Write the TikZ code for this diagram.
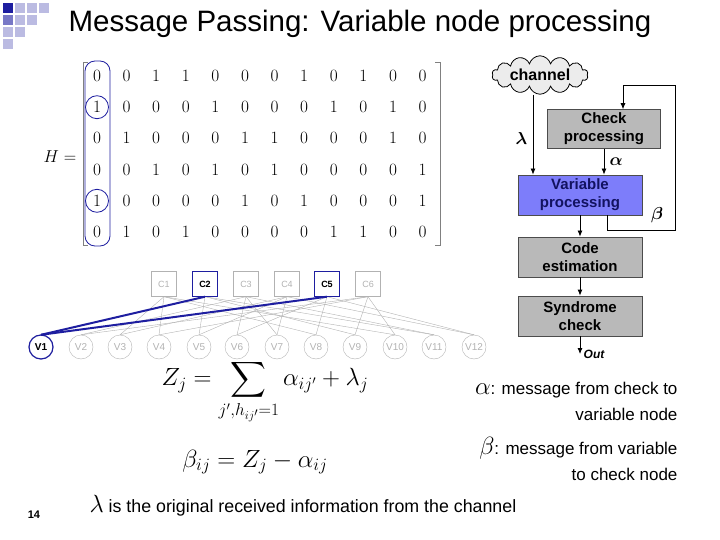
\documentclass[tikz,border=0pt]{standalone}
\usepackage{amsmath}
\usepackage{fontspec}
\setmainfont{Liberation Sans}
\usetikzlibrary{shapes.symbols,arrows.meta}
\definecolor{navy}{RGB}{30,30,160}
\definecolor{varfill}{RGB}{125,125,250}
\tikzset{
  cnode/.style={draw=gray!60,text=gray!60,minimum size=25pt,font=\fontsize{9}{9}\selectfont},
  vnode/.style={circle,draw=gray!60,text=gray!60,minimum size=24pt,inner sep=0pt,font=\fontsize{10}{10}\selectfont},
  blk/.style={draw=black!70,fill=gray!55,thick,minimum width=124pt,minimum height=40pt,align=center,
    font=\bfseries\fontsize{15}{18}\selectfont},
  flow/.style={thick,-{Latex[length=6pt,width=5pt]}}
}
\begin{document}
\begin{tikzpicture}[x=1pt,y=-1pt]
\useasboundingbox (0,0) rectangle (720,540);
% logo
\fill[navy] (3,3) rectangle (13,13);
\foreach \p in {(15,3),(27,3),(39,3),(15,15),(27,15),(3,27),(15,27),(3,39)}
  \fill[navy!30] \p rectangle ++(10,10);
\fill[navy!60] (3,15) rectangle (13,25);
\node[font=\fontsize{29.5}{30}\selectfont] (title) at (360,24) {Message Passing: Variable node processing};
% matrix
\node[font=\fontsize{19}{19}\selectfont] (Hlab) at (60,157) {$H=$};
\draw[gray,thick] (88,62) -- (83,62) -- (83,245) -- (88,245);
\draw[gray,thick] (435,62) -- (440,62) -- (440,245) -- (435,245);
\foreach \row [count=\r] in {{0,0,1,1,0,0,0,1,0,1,0,0},{1,0,0,0,1,0,0,0,1,0,1,0},
  {0,1,0,0,0,1,1,0,0,0,1,0},{0,0,1,0,1,0,1,0,0,0,0,1},{1,0,0,0,0,1,0,1,0,0,0,1},
  {0,1,0,1,0,0,0,0,1,1,0,0}}
  \foreach \v [count=\c] in \row
    \node[font=\fontsize{19}{19}\selectfont] (h\r\c) at (97+29.6*\c-29.6,76+31.2*\r-31.2) {$\v$};
\draw[navy,thick,rounded corners=10pt] (85,61) rectangle (110,246);
\draw[navy,thick] (h21) circle (11.5pt);
\draw[navy,thick] (h51) circle (11.5pt);
% tanner graph
\foreach \x [count=\i] in {164,205,246,287,327,368}
  \node[cnode] (C\i) at (\x,284) {C\i};
\foreach \x [count=\i] in {41,81,120,159,199,237,277,316,355,395,434,474}
  \node[vnode] (V\i) at (\x,347) {V\i};
\foreach \c/\vs in {1/{3,4,8,10},2/{5,9,11},3/{2,6,7,11},4/{3,5,7,12},5/{6,8,12},6/{2,4,9,10}}
  \foreach \v in \vs
    \draw[gray!60] (C\c.south) -- (V\v.north);
\node[cnode,draw=navy,very thick,text=black,font=\bfseries\fontsize{9}{9}\selectfont] at (C2) {C2};
\node[cnode,draw=navy,very thick,text=black,font=\bfseries\fontsize{9}{9}\selectfont] at (C5) {C5};
\node[vnode,draw=navy,very thick,text=black,font=\bfseries\fontsize{10}{10}\selectfont] at (V1) {V1};
\draw[navy,line width=2pt] (C2.south) -- (V1.north);
\draw[navy,line width=2pt] (C5.south) -- (V1.north);
% flow chart
\node[cloud,cloud puffs=14,aspect=3.5,draw,thick,fill=gray!15,inner sep=0pt,minimum width=96pt,minimum height=30pt,
  font=\bfseries\fontsize{16}{16}\selectfont] (chan) at (540,75) {channel};
\node[blk,minimum width=113pt,minimum height=38pt] (check) at (604,129) {Check\\processing};
\node[blk,fill=varfill,text=navy!60!black] (var) at (580,195) {Variable\\processing};
\node[blk] (est) at (580,257) {Code\\estimation};
\node[blk] (synd) at (580,316) {Syndrome\\check};
\coordinate (out) at (580,354);
\draw[flow] (chan.south -| 533,0) -- (var.north -| 533,0) node[pos=0.55,left=2pt,font=\fontsize{18}{18}\selectfont] {$\boldsymbol\lambda$};
\draw[flow] (check.south -| 604,0) -- (var.north -| 604,0) node[midway,right=2pt,font=\fontsize{18}{18}\selectfont] {$\boldsymbol\alpha$};
\draw[thick,-{Latex[length=6pt,width=5pt]}] (var.south -| 607,0) |- (675,230) |- (623,85) -- (check.north -| 623,0);
\node[font=\fontsize{18}{18}\selectfont] (beta) at (657,215) {$\boldsymbol\beta$};
\draw[flow] (var) -- (est);
\draw[flow] (est) -- (synd);
\draw[flow] (synd) -- (out) node[right,font=\bfseries\itshape\fontsize{12}{12}\selectfont] {Out};
% formulas
\node[font=\fontsize{24}{24}\selectfont] (zeq) at (265,392)
  {$Z_j=\displaystyle\sum_{j',h_{ij'}=1}\alpha_{ij'}+\lambda_j$};
\node[font=\fontsize{24}{24}\selectfont] (beq) at (255,462) {$\beta_{ij}=Z_j-\alpha_{ij}$};
\node[anchor=east,align=right,font=\fontsize{17}{26}\selectfont] (alab) at (681,401)
  {{\fontsize{24}{24}\selectfont$\alpha$}: message from check to\\variable node};
\node[anchor=east,align=right,font=\fontsize{17}{26}\selectfont] (blab) at (681,459)
  {{\fontsize{24}{24}\selectfont$\beta$}: message from variable\\to check node};
\node[anchor=west,font=\fontsize{17.8}{18}\selectfont] (llab) at (86,506)
  {{\fontsize{24}{24}\selectfont$\lambda$} is the original received information from the channel};
\node[font=\bfseries\fontsize{11}{11}\selectfont] (pg) at (34,515) {14};
\end{tikzpicture}
\end{document}
